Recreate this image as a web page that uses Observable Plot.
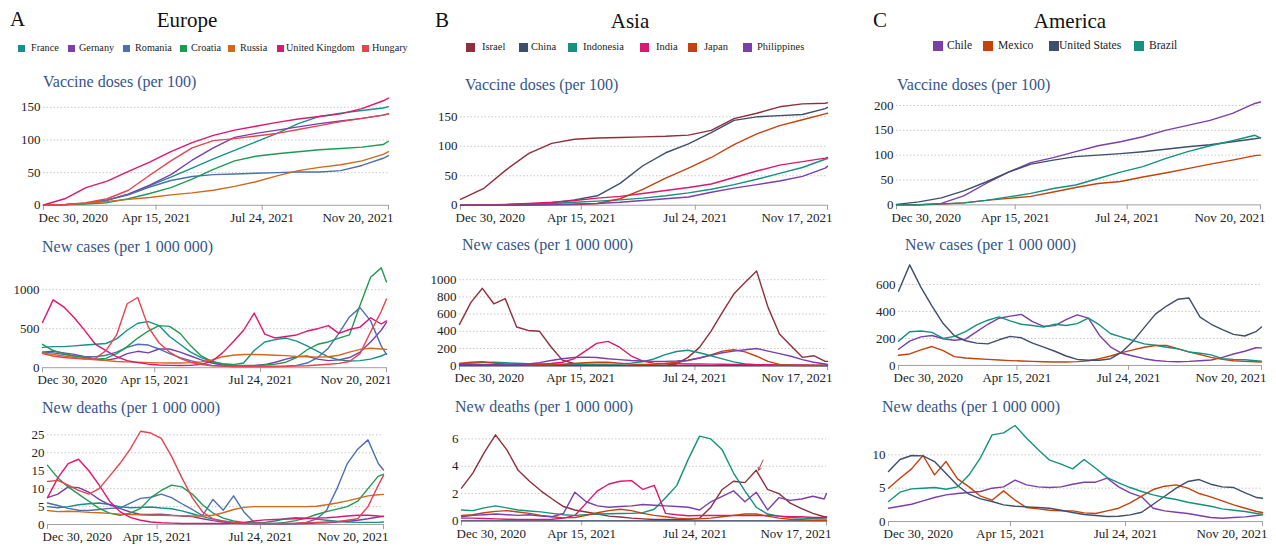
<!DOCTYPE html>
<html><head><meta charset="utf-8">
<script src="https://cdn.jsdelivr.net/npm/d3@7"></script>
<script src="https://cdn.jsdelivr.net/npm/@observablehq/plot@0.6"></script>
<style>
body{margin:0;background:#fff;font-family:"Liberation Serif","Times New Roman",serif;}
#root{position:relative;width:1276px;height:546px;overflow:hidden;background:#fff;}
.abs{position:absolute;white-space:nowrap;line-height:1;font-family:"Liberation Serif","Times New Roman",serif;}
.big{font-size:21px;color:#111;}
.sub{font-size:16px;color:#34558a;}
.sw{position:absolute;}
svg text{font-family:"Liberation Serif","Times New Roman",serif !important;}
</style></head><body><div id="root"></div>
<script>
// ---------- shared ----------
const startDate = "2020-12-30";
const vaxDays325 = [0,20,40,60,80,100,120,140,160,180,200,220,240,260,280,300,320,325];
const dailyDays325 = [0,10,20,30,40,50,60,70,80,90,100,110,120,130,140,150,160,170,180,190,200,210,220,230,240,250,260,270,280,290,300,310,320,325];
const vaxDays322 = [0,20,40,60,80,100,120,140,160,180,200,220,240,260,280,300,320,322];
const dailyDays322 = [0,10,20,30,40,50,60,70,80,90,100,110,120,130,140,150,160,170,180,190,200,210,220,230,240,250,260,270,280,290,300,310,320,322];
const tickDates325 = ["2020-12-30","2021-04-15","2021-07-24","2021-11-20"];
const tickLabels325 = ["Dec 30, 2020","Apr 15, 2021","Jul 24, 2021","Nov 20, 2021"];
const tickDates322 = ["2020-12-30","2021-04-15","2021-07-24","2021-11-17"];
const tickLabels322 = ["Dec 30, 2020","Apr 15, 2021","Jul 24, 2021","Nov 17, 2021"];

// ---------- Europe ----------
const europeCountries = ["France","Gernany","Romania","Croatia","Russia","United Kingdom","Hungary"];
const europeColors = ["#16918a","#7a3fa8","#4d6fb2","#1f9a52","#d0681f","#df1670","#e8434f"];
const europeVaccines = {
  "France":        [0,1,3,8,17,30,43,57,71,84,97,110,125,136,141,145,149,151],
  "Gernany":       [0,1,3,8,17,31,47,69,88,104,110,115,120,125,129,133,138,140],
  "Romania":       [0,1,3,8,16,28,38,44,47,48,49,50,51,51,53,61,72,76],
  "Croatia":       [0,1,2,4,10,18,27,40,55,68,75,79,82,85,87,89,93,98],
  "Russia":        [0,1,3,6,9,12,16,19,23,29,36,45,53,58,62,68,78,82],
  "United Kingdom":[0.5,10,27,37,52,66,82,96,107,115,121,127,132,136,140,148,160,164],
  "Hungary":       [0,1,4,10,23,46,68,88,99,102,106,110,116,122,128,133,138,140]
};
const europeCases = {
  "France":        [260,270,270,280,290,300,310,370,480,570,590,540,400,300,200,130,80,50,40,60,220,330,360,380,340,280,210,140,100,85,90,110,150,180],
  "Gernany":       [200,210,190,170,140,110,95,120,180,210,190,240,240,200,150,100,60,35,25,20,25,40,70,110,140,150,110,90,100,130,200,330,480,580],
  "Romania":       [200,190,170,150,140,140,160,200,260,300,290,240,180,130,90,55,30,20,15,15,15,15,15,20,30,60,130,250,440,650,770,600,280,170],
  "Croatia":       [300,220,180,150,130,110,120,180,270,380,470,540,530,440,280,150,80,45,30,30,30,35,45,70,130,230,300,330,380,420,800,1160,1280,1100],
  "Russia":        [190,170,150,130,115,100,90,80,75,70,65,62,60,60,65,75,100,140,160,170,170,165,160,155,145,140,135,140,160,200,235,250,240,235],
  "United Kingdom":[580,870,780,640,475,300,220,140,90,65,45,35,30,28,30,45,80,190,330,480,700,430,380,400,420,470,500,540,440,490,520,640,560,600],
  "Hungary":       [180,150,130,120,110,120,220,420,820,900,520,320,200,120,70,40,25,20,15,15,15,15,15,18,20,25,35,45,55,80,180,460,720,880]
};
const europeDeaths = {
  "France":        [5,4.7,5,5.5,5.8,6,5.6,5,4.7,4.8,4.9,4.6,4.4,3.8,3,2.2,1.5,1,0.6,0.4,0.4,0.6,1,1.6,1.9,1.8,1.5,1.2,0.9,0.7,0.6,0.6,0.6,0.7],
  "Gernany":       [7.5,8.5,10.5,10.3,9,7,5.5,4.5,3.5,2.8,2.8,2.9,2.6,2.4,2.2,1.6,1.1,0.7,0.4,0.3,0.2,0.2,0.2,0.2,0.2,0.3,0.4,0.5,0.7,0.9,1.2,1.6,2.1,2.3],
  "Romania":       [6,5.3,4.5,4,3.9,4.2,4.5,4.6,6,7.3,7.6,8.5,7.5,5.8,4.2,2.5,7,4,8,3.5,0.6,0.3,0.2,0.2,0.3,0.6,1.5,4,10,17,21,23.6,17,15.2],
  "Croatia":       [16.5,13,10.5,8.5,6.5,4.5,3.2,2.6,3.2,4.5,7.5,9.5,11,10.5,8.5,5.5,3.2,1.8,1,0.6,0.4,0.3,0.3,0.6,1.1,1.8,2.8,3.6,4.3,5,6.5,10,13.5,14],
  "Russia":        [3.9,3.6,3.7,3.6,3.4,3.3,3.1,2.9,2.8,2.7,2.6,2.6,2.5,2.5,2.4,2.4,2.6,3.3,4.2,4.8,5,5,5,5,5,5,5.1,5.5,6,6.6,7.3,8,8.3,8.4],
  "United Kingdom":[7.5,13,17,18.2,15,11,6.5,3.6,2,1.2,0.7,0.5,0.4,0.3,0.3,0.3,0.3,0.3,0.4,0.6,1,1.3,1.4,1.5,1.6,1.7,1.8,1.9,2.1,2.4,2.6,2.6,2.4,2.2],
  "Hungary":       [12,12.3,11,9.5,8.5,10,13.5,17,21,26,25.5,24,19,13,7.5,3.5,1.6,0.9,0.6,0.4,0.3,0.3,0.3,0.3,0.4,0.5,0.6,0.7,0.8,1.2,1.6,5,11,13.7]
};

// ---------- Asia ----------
const asiaCountries = ["Israel","China","Indonesia","India","Japan","Philippines"];
const asiaColors = ["#8e2f3c","#3e4e6c","#14917f","#df1670","#c4420e","#7a3fa8"];
const asiaVaccines = {
  "Israel":      [10,28,60,88,105,112,114,115,116,117,119,127,147,156,167,172,173,174],
  "China":       [0,0.5,1,2,4,9,16,37,67,89,104,123,144,150,152,154,164,166],
  "Indonesia":   [0,0.2,1,2,3,5,7,9,12,16,21,27,35,44,54,64,78,79],
  "India":       [0,0.5,1.5,3,5,8,12,15,20,25,30,36,47,58,68,74,80,81],
  "Japan":       [0,0,0,0.2,0.5,1,3,11,27,46,63,81,103,121,135,145,155,156],
  "Philippines": [0,0,0,0.3,1,2,3,5,8,11,14,22,29,35,41,49,63,66]
};
const asiaCases = {
  "Israel":      [480,736,900,720,780,450,410,400,220,65,25,12,10,8,6,5,5,5,5,20,97,213,400,620,833,970,1100,678,368,233,97,116,50,50],
  "China":       [0,0,0,0,0,0,0,0,0,0,0,0,0,0,0,0,0,0,0,0,0,0,0,0,0,0,0,0,0,0,0,0,0,0],
  "Indonesia":   [25,30,38,40,35,28,22,20,18,17,16,16,17,18,20,30,45,78,128,165,180,150,116,80,45,20,12,8,6,5,4,4,3,3],
  "India":       [15,14,12,10,9,9,10,14,25,40,80,170,260,283,215,115,55,30,25,22,20,20,18,17,15,14,12,11,10,9,8,7,7,7],
  "Japan":       [25,40,45,30,18,12,9,9,10,15,25,35,40,42,30,18,14,15,25,40,60,90,125,170,185,160,110,50,15,5,3,2,1.5,1.5],
  "Philippines": [12,13,14,15,16,16,20,35,60,80,95,100,95,80,70,60,55,50,50,55,65,90,120,150,170,185,200,170,140,110,70,40,20,15]
};
const asiaDeaths = {
  "Israel":      [2.4,3.5,5,6.3,5.2,3.7,2.9,2.2,1.6,1.05,0.8,0.65,0.5,0.35,0.28,0.2,0.15,0.1,0.1,0.1,0.1,0.2,1,2.3,2.9,2.8,3.7,2.3,2,1.3,0.9,0.55,0.3,0.3],
  "China":       [0,0,0,0,0,0,0,0,0,0,0,0,0,0,0,0,0,0,0,0,0,0,0,0,0,0,0,0,0,0,0,0,0,0],
  "Indonesia":   [0.8,0.75,0.95,1.1,0.95,0.8,0.72,0.66,0.55,0.45,0.4,0.45,0.5,0.52,0.54,0.55,0.6,0.85,1.7,2.6,4.5,6.2,6,5.2,3.5,2.2,1,0.5,0.35,0.25,0.2,0.17,0.15,0.15],
  "India":       [0.2,0.2,0.18,0.15,0.12,0.1,0.1,0.1,0.12,0.2,0.4,1.3,2.2,2.7,2.9,2.95,2.3,2.6,0.55,0.45,0.38,0.4,0.4,0.4,0.4,0.4,0.4,0.4,0.35,0.3,0.3,0.25,0.25,0.25],
  "Japan":       [0.4,0.45,0.6,0.7,0.75,0.65,0.55,0.4,0.3,0.22,0.25,0.4,0.6,0.75,0.85,0.75,0.55,0.4,0.3,0.2,0.15,0.15,0.2,0.3,0.4,0.5,0.5,0.35,0.2,0.12,0.08,0.05,0.05,0.05],
  "Philippines": [0.3,0.4,0.45,0.5,0.45,0.4,0.45,0.35,0.3,0.55,2.1,1.4,1.1,1,1.05,1.1,1.2,1.15,1.1,1.05,1,0.8,1.4,1.8,2.2,1.4,2.1,0.8,1.7,1.5,1.6,1.8,1.6,2]
};
const asiaArrowFrom = ["2021-09-22", 4.45];
const asiaArrowTo = ["2021-09-18", 3.7];

// ---------- America ----------
const americaCountries = ["Chile","Mexico","United States","Brazil"];
const americaColors = ["#7a3fa8","#c4420e","#3e4e6c","#14917f"];
const americaVaccines = {
  "Chile":         [0,0,3,18,43,66,85,95,107,119,127,137,150,160,170,184,204,207],
  "Mexico":        [0,0.3,1.5,4,9,13,17,26,35,43,47,56,64,73,82,90,99,100],
  "United States": [1,6,14,28,46,66,82,90,97,100,103,107,112,117,121,127,133,135],
  "Brazil":        [0,0.5,2,4,9,16,23,33,40,53,66,77,93,107,119,129,140,135]
};
const americaCases = {
  "Chile":         [120,180,212,222,198,187,195,250,305,350,365,378,325,290,295,340,375,350,222,136,90,70,50,37,30,27,30,35,40,60,85,105,131,130],
  "Mexico":        [75,85,115,140,110,65,55,50,45,40,36,33,30,27,25,25,28,35,50,70,95,115,135,148,148,125,100,80,60,45,35,30,27,25],
  "United States": [550,745,580,440,310,220,183,165,160,190,215,205,165,135,105,70,45,38,38,50,100,180,280,380,440,490,500,358,305,265,230,218,250,285],
  "Brazil":        [180,250,255,245,200,215,250,300,335,360,330,305,296,284,305,296,310,350,300,235,210,185,160,150,135,123,100,90,78,50,45,42,35,32]
};
const americaDeaths = {
  "Chile":         [2,2.3,2.6,3.1,3.6,4,4.2,4.35,4.5,5,5.2,6.2,5.5,5.2,5.1,5.2,5.6,5.9,5.9,6.5,5.2,4.3,3.7,2,1.6,1.4,1.2,0.9,0.6,0.5,0.6,0.7,0.9,1],
  "Mexico":        [5,6.5,7.9,9.9,7,9,6.4,5.2,3.8,3.2,4.6,3.2,2.1,1.9,1.7,1.6,1.6,1.3,1.2,1.6,2,2.8,3.8,4.8,5.3,5.5,5,4.2,3.7,3.1,2.5,2,1.5,1.35],
  "United States": [7.5,9.3,9.9,9.85,9,7.2,5.4,4.1,3.4,3,2.5,2.3,2.2,2.1,2,1.7,1.35,1.05,0.9,0.75,0.8,1,1.4,2.6,3.8,5,6,6.3,5.6,5.2,5.1,4.3,3.6,3.5],
  "Brazil":        [3,4.4,4.9,5,5.1,4.85,5.2,7,9.6,13,13.3,14.4,12.5,10.8,9.2,8.6,7.9,9.3,8,6.6,5.8,5.1,4.5,4,3.6,3.3,2.9,2.6,2.3,1.9,1.7,1.5,1.2,1.1]
};

// ---------- drawing ----------
const FONT = "'Liberation Serif','Times New Roman',serif";
const root = document.getElementById("root");
const t0 = new Date(startDate + "T00:00:00Z");
const dayToDate = d => d3.utcDay.offset(t0, d);
const parse = s => new Date(s + "T00:00:00Z");

function addText(txt, cls, left, top, extra) {
  const el = document.createElement("div");
  el.className = "abs " + cls;
  el.textContent = txt;
  el.style.left = left + "px";
  el.style.top = top + "px";
  if (extra) Object.assign(el.style, extra);
  root.appendChild(el);
  return el;
}

function addLegend(countries, colors, sq, txtX, sqSize, cy, fontSize) {
  countries.forEach((c, i) => {
    const s = document.createElement("div");
    s.className = "sw";
    s.style.left = sq[i] + "px";
    s.style.top = (cy - sqSize / 2) + "px";
    s.style.width = sqSize + "px";
    s.style.height = sqSize + "px";
    s.style.background = colors[i];
    root.appendChild(s);
    addText(c, "", txtX[i], cy - fontSize * 0.52, {fontSize: fontSize + "px", color: "#222"});
  });
}

function toRows(days, series, countries) {
  const out = [];
  for (const c of countries) series[c].forEach((v, i) => out.push({date: dayToDate(days[i]), value: v, country: c}));
  return out;
}

function chart(o) {
  const ml = 40, mr = 12, mt = 6, mb = 28;
  const k = (o.yb - o.refY) / o.refV;
  const yt = o.yb - o.ymax * k;
  const width = o.x1 - o.x0 + ml + mr;
  const height = o.yb - yt + mt + mb;
  const ticks = o.tickDates.map(parse);
  const labs = o.tickDates.map((d, i) => ({d: parse(d), t: o.tickLabels[i]}));
  const lab = {x: "d", text: "t", frameAnchor: "bottom", lineAnchor: "middle", dy: 12.5, fill: "#222", fontSize: 13};
  const marks = [
    Plot.gridY(o.yTicks.filter(v => v > 0), {stroke: "#c8c8c8", strokeOpacity: 1, strokeDasharray: "1.5,2"}),
    Plot.axisY(o.yTicks, {tickSize: 0, tickPadding: 3, label: null, fill: "#222", tickFormat: d => String(d), fontSize: 13}),
    Plot.ruleY([0], {stroke: "#a0a0a0"}),
    Plot.axisX(ticks, {tickSize: 5, tickFormat: () => "", label: null, stroke: "#a0a0a0"}),
    Plot.text(labs.slice(0, 1), {...lab, dx: -5, textAnchor: "start"}),
    Plot.text(labs.slice(1, 3), {...lab}),
    Plot.text(labs.slice(3), {...lab, dx: 5, textAnchor: "end"}),
    Plot.line(toRows(o.days, o.series, o.countries), {x: "date", y: "value", stroke: "country", strokeWidth: 1.4, z: "country"})
  ];
  if (o.arrow) marks.push(Plot.arrow([o.arrow], {x1: d => parse(d.from[0]), y1: d => d.from[1], x2: d => parse(d.to[0]), y2: d => d.to[1], stroke: "#a8433c", strokeWidth: 1, headLength: 5}));
  const svg = Plot.plot({
    width, height, marginLeft: ml, marginRight: mr, marginTop: mt, marginBottom: mb,
    style: {fontFamily: FONT, fontSize: "13px", background: "transparent", overflow: "visible"},
    x: {type: "utc", domain: [parse(o.tickDates[0]), parse(o.tickDates[3])]},
    y: {domain: [0, o.ymax]},
    color: {domain: o.countries, range: o.colors},
    marks
  });
  svg.setAttribute("font-family", FONT);
  svg.style.position = "absolute";
  svg.style.left = (o.x0 - ml) + "px";
  svg.style.top = (yt - mt) + "px";
  root.appendChild(svg);
}

// Headers
addText("A", "big", 10, 9);
addText("Europe", "big", 187, 9.5, {transform: "translateX(-50%)"});
addText("B", "big", 435, 9.5);
addText("Asia", "big", 630, 10.5, {transform: "translateX(-50%)"});
addText("C", "big", 873, 10);
addText("America", "big", 1070, 10.5, {transform: "translateX(-50%)"});

addLegend(europeCountries, europeColors, [18,68,123,180,228,277,362], [31,79,135,191,240,286,372], 7, 48.5, 10.2);
addLegend(asiaCountries, asiaColors, [466,519,568,640,688,743], [482,531,583,656,704,757], 9, 47.5, 10.5);
addLegend(americaCountries, americaColors, [933,983,1049,1134], [947,998,1059,1149], 10, 46, 11.6);

// Subtitles
addText("Vaccine doses (per 100)", "sub", 43, 74);
addText("New cases (per 1 000 000)", "sub", 42, 239);
addText("New deaths (per 1 000 000)", "sub", 42, 400);
addText("Vaccine doses (per 100)", "sub", 465, 77.3);
addText("New cases (per 1 000 000)", "sub", 462, 236.6);
addText("New deaths (per 1 000 000)", "sub", 455, 399);
addText("Vaccine doses (per 100)", "sub", 897, 77.3);
addText("New cases (per 1 000 000)", "sub", 905, 236.6);
addText("New deaths (per 1 000 000)", "sub", 882, 399);

const EU = {countries: europeCountries, colors: europeColors, tickDates: tickDates325, tickLabels: tickLabels325};
const AS = {countries: asiaCountries, colors: asiaColors, tickDates: tickDates322, tickLabels: tickLabels322};
const AM = {countries: americaCountries, colors: americaColors, tickDates: tickDates325, tickLabels: tickLabels325};

chart({...EU, x0: 43, x1: 388, yb: 205, refY: 107, refV: 150, ymax: 165, yTicks: [0,50,100,150], days: vaxDays325, series: europeVaccines});
chart({...EU, x0: 42, x1: 386, yb: 367, refY: 289, refV: 1000, ymax: 1400, yTicks: [0,500,1000], days: dailyDays325, series: europeCases});
chart({...EU, x0: 47, x1: 383, yb: 524, refY: 434.3, refV: 25, ymax: 29, yTicks: [0,5,10,15,20,25], days: dailyDays325, series: europeDeaths});

chart({...AS, x0: 460, x1: 827, yb: 204.7, refY: 116.3, refV: 150, ymax: 176, yTicks: [0,50,100,150], days: vaxDays322, series: asiaVaccines});
chart({...AS, x0: 459, x1: 827, yb: 365, refY: 279, refV: 1000, ymax: 1200, yTicks: [0,200,400,600,800,1000], days: dailyDays322, series: asiaCases});
chart({...AS, x0: 461, x1: 826, yb: 520, refY: 438, refV: 6, ymax: 7.2, yTicks: [0,2,4,6], days: dailyDays322, series: asiaDeaths, arrow: {from: asiaArrowFrom, to: asiaArrowTo}});

chart({...AM, x0: 896, x1: 1260, yb: 204.7, refY: 105.3, refV: 200, ymax: 210, yTicks: [0,50,100,150,200], days: vaxDays325, series: americaVaccines});
chart({...AM, x0: 898, x1: 1261, yb: 365, refY: 284, refV: 600, ymax: 770, yTicks: [0,200,400,600], days: dailyDays325, series: americaCases});
chart({...AM, x0: 888, x1: 1262, yb: 520.7, refY: 454, refV: 10, ymax: 15, yTicks: [0,5,10], days: dailyDays325, series: americaDeaths});
</script></body></html>
